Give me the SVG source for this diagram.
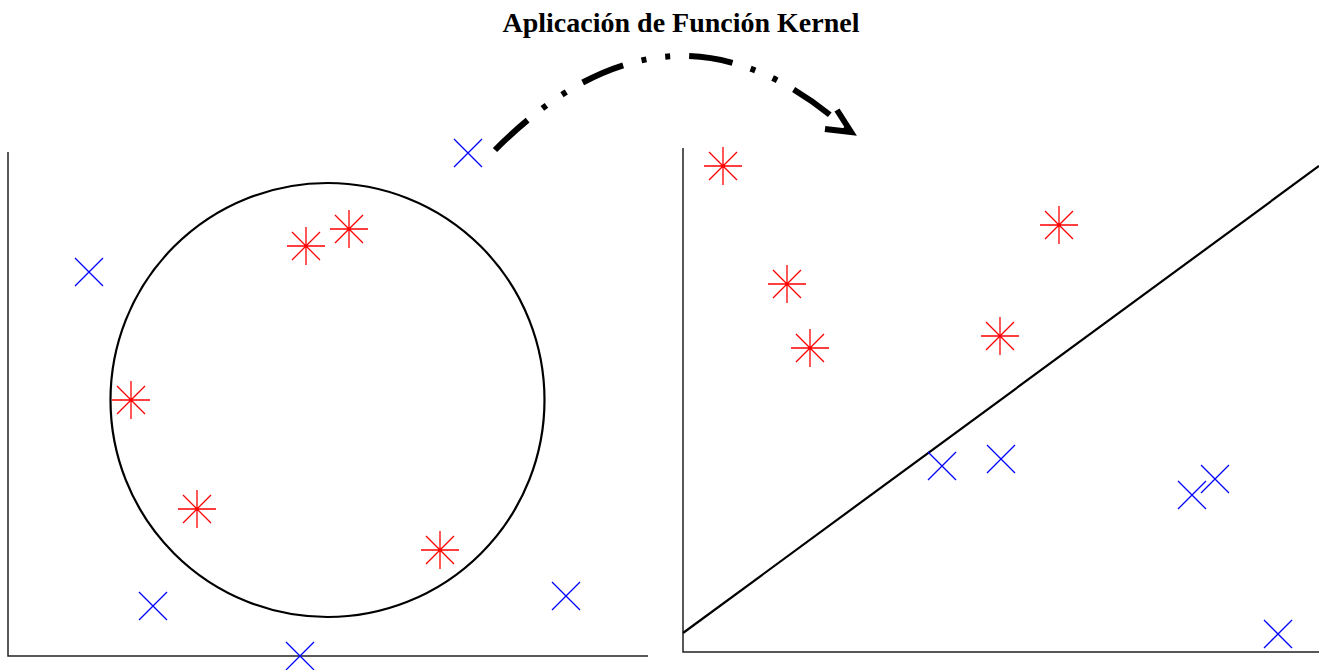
<svg xmlns="http://www.w3.org/2000/svg" xmlns:xlink="http://www.w3.org/1999/xlink" width="1319" height="670" viewBox="0 0 1319 670">
<style>
.ax{stroke:#222;stroke-width:1.5;fill:none}
.sep{stroke:#000;stroke-width:2.2;fill:none}
.xm{stroke:#0000ff;stroke-width:1.3;fill:none}
.st{stroke:#ff0000;stroke-width:1.3;fill:none}
.title{font-family:"Liberation Serif",serif;font-weight:bold;font-size:28px;fill:#000}
</style>
<defs>
<g id="xmark"><path class="xm" d="M-14,-14L14,14M-14,14L14,-14"/></g>
<g id="star"><path class="st" d="M-19,0H19M0,-19V19M-14,-14L14,14M-14,14L14,-14"/></g>
</defs>
<rect width="1319" height="670" fill="#fff"/>
<g id="title"><text class="title" x="681" y="32" text-anchor="middle">Aplicación de Función Kernel</text></g>
<g id="left-panel">
<path class="ax" d="M8,152V656H648"/>
<circle class="sep" cx="327.5" cy="400" r="217"/>
<use xlink:href="#xmark" x="468" y="153"/>
<use xlink:href="#xmark" x="89" y="272"/>
<use xlink:href="#xmark" x="153" y="606"/>
<use xlink:href="#xmark" x="300" y="656"/>
<use xlink:href="#xmark" x="566" y="596"/>
<use xlink:href="#star" x="306" y="246"/>
<use xlink:href="#star" x="349" y="229"/>
<use xlink:href="#star" x="131" y="400"/>
<use xlink:href="#star" x="197" y="509"/>
<use xlink:href="#star" x="440" y="550"/>
</g>
<g id="right-panel">
<path class="ax" d="M683,148V652H1319"/>
<path class="sep" d="M683,633L1319,166"/>
<use xlink:href="#star" x="723" y="166"/>
<use xlink:href="#star" x="787" y="284"/>
<use xlink:href="#star" x="810" y="348"/>
<use xlink:href="#star" x="1000" y="336"/>
<use xlink:href="#star" x="1059" y="225"/>
<use xlink:href="#xmark" x="942" y="466"/>
<use xlink:href="#xmark" x="1001" y="459"/>
<use xlink:href="#xmark" x="1192" y="495"/>
<use xlink:href="#xmark" x="1215" y="479"/>
<use xlink:href="#xmark" x="1278" y="634"/>
</g>
<g id="connectors">
<path d="M495,150Q672,-28 849,131" fill="none" stroke="#000" stroke-width="6" stroke-dasharray="44 19 5 19 5 19"/>
<path d="M837,110L851,132L825,129" fill="none" stroke="#000" stroke-width="6" stroke-linejoin="miter"/>
</g>
</svg>
